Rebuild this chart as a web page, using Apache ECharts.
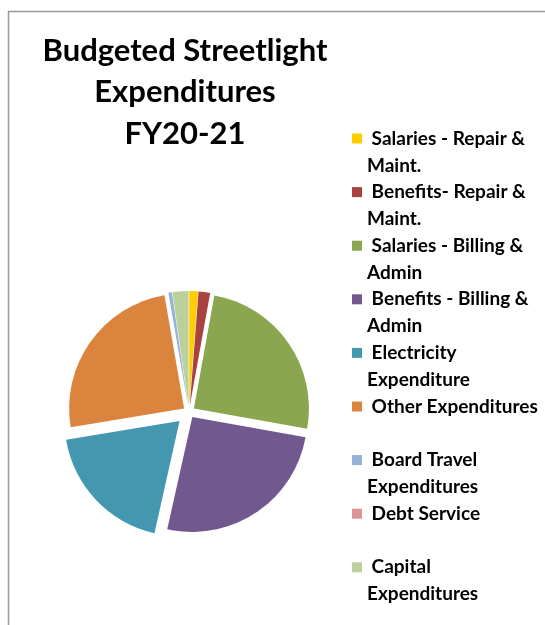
<!DOCTYPE html>
<html>
<head>
<meta charset="utf-8">
<script src="https://cdn.jsdelivr.net/npm/echarts@6/dist/echarts.min.js"></script>
<style>
  html, body { margin: 0; padding: 0; background: #fff; }
  #chart { width: 545px; height: 625px; }
</style>
</head>
<body>
<div id="chart"></div>
<script>
// budget shares (percent), clockwise from 12 o'clock
var categories = [
    'Salaries - Repair & Maint.',
    'Benefits- Repair & Maint.',
    'Salaries - Billing & Admin',
    'Benefits - Billing & Admin',
    'Electricity Expenditure',
    'Other Expenditures',
    'Board Travel Expenditures',
    'Debt Service',
    'Capital Expenditures'
];
var values = [1.2, 1.6, 24.6, 25.3, 18.6, 24.5, 0.5, 0, 2.2];
// how the legend wraps each name (blank first line keeps the square on line one)
var legendLines = [
    ['Salaries - Repair &', 'Maint.'],
    ['Benefits- Repair &', 'Maint.'],
    ['Salaries - Billing &', 'Admin'],
    ['Benefits - Billing &', 'Admin'],
    ['Electricity', 'Expenditure'],
    ['Other Expenditures', ' '],
    ['Board Travel', 'Expenditures'],
    ['Debt Service', ' '],
    ['Capital', 'Expenditures']
];
var colors = ['#FFCC00', '#A8423F', '#8AA64E', '#715990', '#4398AF', '#DB843D', '#95B3D7', '#D99694', '#BBD09A'];
// electricity slice is pulled out further than the rest
var pulledOut = 'Electricity Expenditure';

var chart = echarts.init(document.getElementById('chart'), null, {renderer: 'canvas'});

// one pie per explosion distance; slices not belonging to it stay invisible
var makeData = function (showPulled) {
    var arr = [];
    for (var i = 0; i < categories.length; i++) {
        var visible = (categories[i] === pulledOut) === showPulled;
        arr.push({
            name: categories[i],
            value: values[i],
            selected: true,
            itemStyle: {color: visible ? colors[i] : 'rgba(0,0,0,0)'}
        });
    }
    return arr;
};

var legendData = [];
for (var j = 0; j < categories.length; j++) {
    legendData.push({name: categories[j], itemStyle: {color: colors[j]}});
}

var pieBase = {
    type: 'pie',
    center: [189, 412],
    radius: 115,
    startAngle: 90,
    clockwise: true,
    selectedMode: 'multiple',
    stillShowZeroSum: true,
    silent: true,
    label: {show: false},
    labelLine: {show: false},
    emphasis: {disabled: true}
};

var option = {
    animation: false,
    color: colors,
    title: {
        text: 'Budgeted Streetlight\nExpenditures\nFY20-21',
        left: 185,
        top: 30,
        padding: 0,
        textAlign: 'center',
        textStyle: {
            fontFamily: 'Lato',
            fontWeight: 'bold',
            fontSize: 31,
            lineHeight: 41.5,
            color: '#000'
        }
    },
    legend: {
        orient: 'vertical',
        left: 352,
        top: 98,
        padding: 0,
        itemWidth: 10,
        itemHeight: 10,
        itemGap: -27.4,
        icon: 'rect',
        selectedMode: false,
        data: legendData,
        formatter: function (name) {
            var l = legendLines[categories.indexOf(name)];
            return '\n ' + l[0] + '\n' + l[1];
        },
        textStyle: {
            fontFamily: 'Lato',
            fontWeight: 'bold',
            fontSize: 19,
            lineHeight: 27,
            color: '#000'
        }
    },
    graphic: [{
        type: 'rect',
        shape: {x: 8.5, y: 11.5, width: 700, height: 700},
        style: {fill: null, stroke: '#999', lineWidth: 1.5},
        silent: true
    }],
    series: [
        echarts.util.merge({selectedOffset: 6, data: makeData(false), itemStyle: {borderWidth: 0}}, pieBase),
        echarts.util.merge({selectedOffset: 13, data: makeData(true), itemStyle: {borderWidth: 0}}, pieBase)
    ]
};

chart.setOption(option);
</script>
</body>
</html>
